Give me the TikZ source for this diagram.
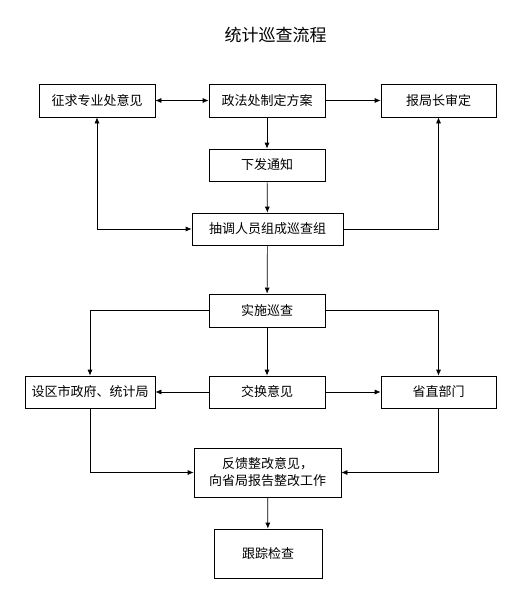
\documentclass[tikz,border=0pt]{standalone}
\usepackage{fontspec}
\setmainfont{Noto Sans CJK SC}
\usetikzlibrary{arrows.meta}
\tikzset{
  box/.style={draw, line width=0.7pt, minimum width=116pt, minimum height=33pt, inner sep=2pt, font=\fontsize{13}{17}\selectfont},
  link/.style={line width=0.7pt, -{Latex[length=6pt,width=5pt]}},
  duallink/.style={line width=0.7pt, {Latex[length=6pt,width=5pt]}-{Latex[length=6pt,width=5pt]}}
}
\begin{document}
\begin{tikzpicture}[x=1pt, y=-1pt]
        \useasboundingbox (0,0) rectangle (518,597);
        % Title
        \node[font=\fontsize{17}{20}\selectfont] (title) at (275.5,35) {统计巡查流程};
        % First row
        \node[box] (zq) at (97,100.5) {征求专业处意见};
        \node[box] (zf) at (267,100.5) {政法处制定方案};
        \node[box, minimum width=115pt] (bj) at (438.5,100.5) {报局长审定};
        % Notice and group
        \node[box, minimum height=32pt] (xf) at (267,165) {下发通知};
        \node[box, minimum width=151pt, minimum height=32pt] (cd) at (267.5,229) {抽调人员组成巡查组};
        % Inspection
        \node[box] (ss) at (267,310.5) {实施巡查};
        \node[box, minimum width=130pt, minimum height=32pt] (sq) at (90,392) {设区市政府、统计局};
        \node[box, minimum height=32pt] (jh) at (267,392) {交换意见};
        \node[box, minimum width=115pt, minimum height=32pt] (sz) at (438.5,392) {省直部门};
        % Feedback and follow-up
        \node[box, minimum width=147pt, minimum height=49pt, align=center] (fk) at (267.5,472.5) {反馈整改意见，\\向省局报告整改工作};
        \node[box, minimum width=108pt, minimum height=49pt] (gz) at (268,553.5) {跟踪检查};
        % Connectors
        \draw[duallink] (zq) -- (zf);
        \draw[link] (zf) -- (bj);
        \draw[link] (zf) -- (xf);
        \draw[link] (xf) -- (cd);
        \draw[duallink] (zq) |- (cd);
        \draw[link] (cd) -| (bj);
        \draw[link] (cd) -- (ss);
        \draw[link] (ss) -| (sq);
        \draw[link] (ss) -- (jh);
        \draw[link] (ss) -| (sz);
        \draw[link] (jh) -- (sq);
        \draw[link] (jh) -- (sz);
        \draw[link] (sq) |- (fk);
        \draw[link] (sz) |- (fk);
        \draw[link] (fk) -- (gz);
\end{tikzpicture}
\end{document}
